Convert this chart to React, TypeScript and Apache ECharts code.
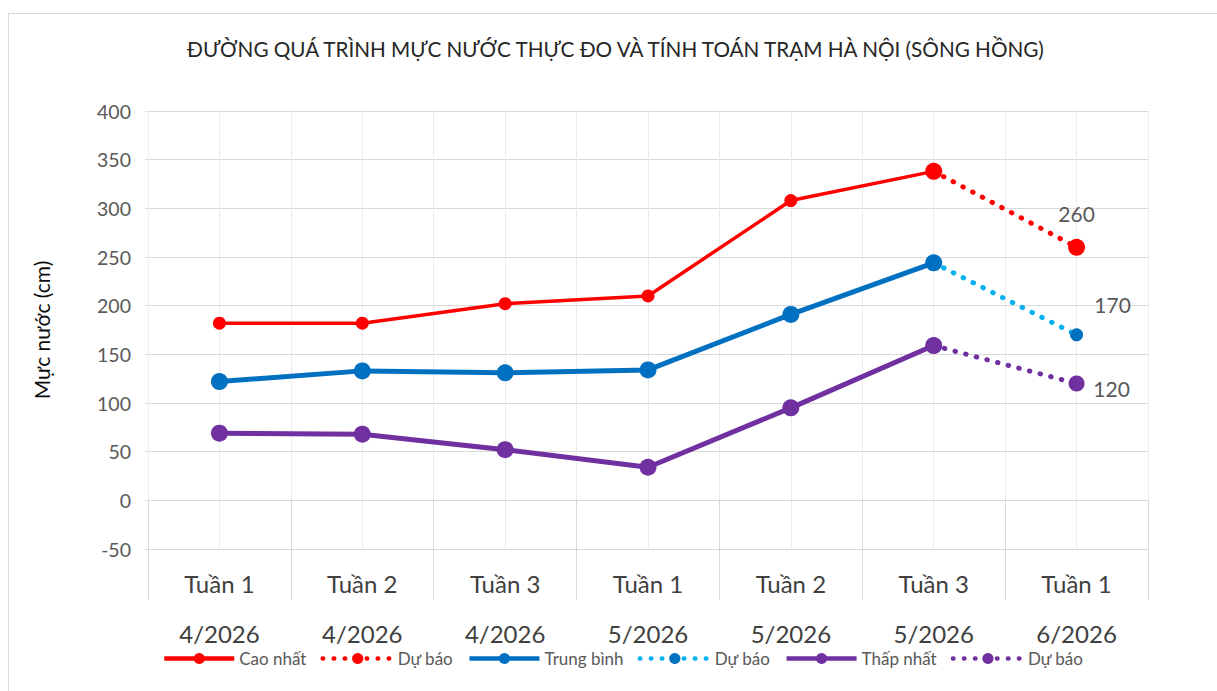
import React, { useEffect, useRef } from "react";
import * as echarts from "echarts";

const categories = [
  "Tuần 1\n4/2026",
  "Tuần 2\n4/2026",
  "Tuần 3\n4/2026",
  "Tuần 1\n5/2026",
  "Tuần 2\n5/2026",
  "Tuần 3\n5/2026",
  "Tuần 1\n6/2026",
];
const yTicks = { min: -50, max: 400, interval: 50 };

const caoNhat = [182, 182, 202, 210, 308, 338, null];
const caoNhatDuBao = [null, null, null, null, null, 338, 260];
const trungBinh = [122, 133, 131, 134, 191, 244, null];
const trungBinhDuBao = [null, null, null, null, null, 244, 170];
const thapNhat = [69, 68, 52, 34, 95, 159, null];
const thapNhatDuBao = [null, null, null, null, null, 159, 120];

const RED = "#ff0000";
const BLUE = "#0070c0";
const LBLUE = "#00b0f0";
const PURPLE = "#7030a0";
const FONT = "Lato, 'Open Sans', sans-serif";

export default function App() {
  const ref = useRef<HTMLDivElement>(null);
  useEffect(() => {
    if (!ref.current) return;
    const chart = echarts.init(ref.current, undefined, { renderer: "svg" });
    const dotted = (color: string) => ({
      color,
      width: 5,
      type: [0.5, 10.5] as any,
      cap: "round" as any,
    });
    const lastLabel = (offset: number[]) => ({
      show: true,
      position: "inside" as any,
      offset,
      color: "#595959",
      fontSize: 21,
      fontFamily: FONT,
      formatter: (p: any) => String(p.value),
    });
    const fcData = (arr: (number | null)[], offset: number[]) =>
      arr.map((v, i) =>
        i === arr.length - 1 && v != null
          ? { value: v, label: lastLabel(offset) }
          : v
      );
    chart.setOption({
      animation: false,
      textStyle: { fontFamily: FONT },
      title: {
        text: "ĐƯỜNG QUÁ TRÌNH MỰC NƯỚC THỰC ĐO VÀ TÍNH TOÁN TRẠM HÀ NỘI (SÔNG HỒNG)",
        left: 182,
        top: 33,
        textStyle: { fontSize: 20.7, fontWeight: "normal", color: "#262626", fontFamily: FONT },
      },
      graphic: [
        {
          type: "rect",
          shape: { x: 8.5, y: 13.5, width: 1215, height: 690 },
          style: { fill: "none", stroke: "#d9d9d9", lineWidth: 1 },
          silent: true,
          z: -10,
        },
      ],
      legend: {
        bottom: 19,
        left: 157,
        itemWidth: 70,
        itemHeight: 14,
        itemGap: 14,
        lineStyle: { width: 4.5 },
        textStyle: { fontSize: 17, color: "#595959", fontFamily: FONT },
        formatter: (name: string) => name.replace(/\u200b/g, ""),
        data: ["Cao nhất", "Dự báo", "Trung bình", "Dự báo\u200b", "Thấp nhất", "Dự báo\u200b\u200b"],
      },
      grid: { left: 148, right: 69, top: 111, bottom: 142 },
      xAxis: [
        {
          type: "category",
          data: categories,
          boundaryGap: true,
          axisLine: { show: true, lineStyle: { color: "#d9d9d9" } },
          axisTick: { show: true, length: 100, lineStyle: { color: "#d9d9d9" } },
          splitLine: { show: false },
          axisLabel: {
            fontSize: 24,
            lineHeight: 50,
            color: "#404040",
            margin: 9,
            fontFamily: FONT,
          },
        },
        {
          type: "value",
          min: 0,
          max: 14,
          interval: 1,
          position: "bottom",
          axisLine: { show: false },
          axisTick: { show: false },
          axisLabel: { show: false },
          splitLine: { show: true, lineStyle: { color: "#ebebeb" } },
        },
      ],
      yAxis: {
        type: "value",
        min: yTicks.min,
        max: yTicks.max,
        interval: yTicks.interval,
        name: "Mực nước (cm)",
        nameLocation: "middle",
        nameRotate: 90,
        nameGap: 96,
        nameTextStyle: { fontSize: 21, color: "#0d0d0d", fontFamily: FONT },
        axisLine: { show: false },
        axisTick: { show: true, length: 3, lineStyle: { color: "#d9d9d9" } },
        axisLabel: { fontSize: 19.5, color: "#595959", margin: 17, fontFamily: FONT },
        splitLine: { show: true, lineStyle: { color: "#d9d9d9" } },
      },
      series: [
        {
          name: "Cao nhất",
          type: "line",
          data: caoNhat,
          symbol: "circle",
          symbolSize: 13,
          itemStyle: { color: RED },
          lineStyle: { color: RED, width: 3.5 },
          z: 5,
        },
        {
          name: "Dự báo",
          type: "line",
          data: fcData(caoNhatDuBao, [0, -34]),
          symbol: "circle",
          symbolSize: 17,
          itemStyle: { color: RED },
          lineStyle: dotted(RED),
          z: 4,
        },
        {
          name: "Trung bình",
          type: "line",
          data: trungBinh,
          symbol: "circle",
          symbolSize: 17,
          itemStyle: { color: BLUE },
          lineStyle: { color: BLUE, width: 5 },
          z: 5,
        },
        {
          name: "Dự báo\u200b",
          type: "line",
          data: fcData(trungBinhDuBao, [36, -30]),
          symbol: "circle",
          symbolSize: 13,
          itemStyle: { color: BLUE },
          lineStyle: dotted(LBLUE),
          z: 4,
        },
        {
          name: "Thấp nhất",
          type: "line",
          data: thapNhat,
          symbol: "circle",
          symbolSize: 17,
          itemStyle: { color: PURPLE },
          lineStyle: { color: PURPLE, width: 5 },
          z: 5,
        },
        {
          name: "Dự báo\u200b\u200b",
          type: "line",
          data: fcData(thapNhatDuBao, [35, 5]),
          symbol: "circle",
          symbolSize: 16,
          itemStyle: { color: PURPLE },
          lineStyle: dotted(PURPLE),
          z: 4,
        },
      ],
    });
    return () => chart.dispose();
  }, []);
  return (
    <div
      ref={ref}
      style={{ position: "fixed", left: 0, top: 0, width: 1217, height: 691, background: "#fff" }}
    />
  );
}
